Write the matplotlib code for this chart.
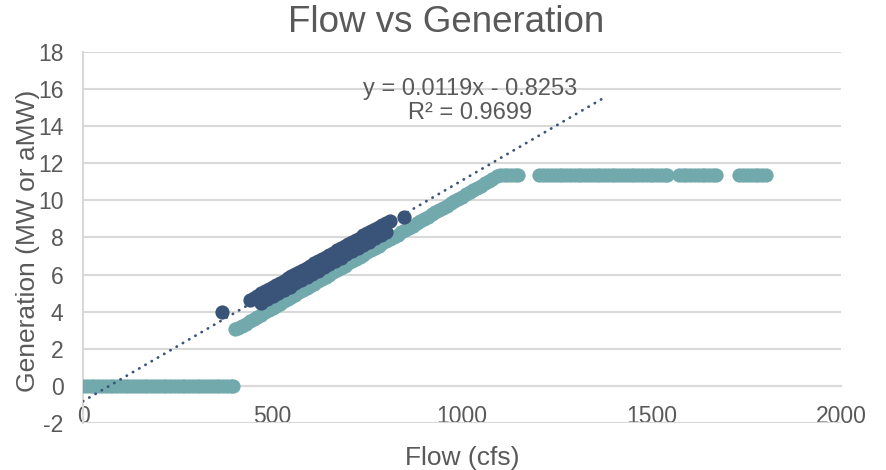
import matplotlib.pyplot as plt
import numpy as np

plt.rcParams['font.family'] = ['Liberation Sans', 'DejaVu Sans']
plt.rcParams['axes.unicode_minus'] = False

grey = "#595959"
grid_c = "#D9D9D9"
teal = "#72A9AC"
navy = "#3A5378"

# teal series: zero generation below ~400 cfs
teal_flow_zero = [0, 10, 20, 30, 40, 50, 60, 70, 80, 90, 100, 110, 120, 130,
                  140, 150, 160, 170, 180, 190, 200, 210, 220, 230, 240, 250,
                  260, 270, 280, 290, 300, 310, 320, 330, 340, 350, 360, 370,
                  380, 390, 397]
teal_gen_zero = [0] * len(teal_flow_zero)

# teal ramp
teal_flow_ramp = [402, 410, 420, 430, 440, 450, 460, 470, 480, 490, 500, 510,
                  520, 530, 540, 550, 560, 570, 580, 590, 600, 610, 620, 630,
                  640, 650, 660, 670, 680, 690, 700, 710, 720, 730, 740, 750,
                  760, 770, 780, 790, 800, 810, 820, 830, 840, 850, 860, 870,
                  880, 890, 900, 910, 920, 930, 940, 950, 960, 970, 980, 990,
                  1000, 1010, 1020, 1030, 1040, 1050, 1060, 1070, 1080, 1092]
teal_gen_ramp = [3.06, 3.12, 3.24, 3.36, 3.48, 3.60, 3.72, 3.84, 3.96, 4.08,
                 4.20, 4.32, 4.44, 4.56, 4.68, 4.80, 4.92, 5.04, 5.16, 5.28,
                 5.40, 5.52, 5.64, 5.76, 5.88, 6.00, 6.12, 6.24, 6.36, 6.48,
                 6.60, 6.72, 6.84, 6.96, 7.08, 7.20, 7.32, 7.44, 7.56, 7.68,
                 7.80, 7.92, 8.04, 8.16, 8.28, 8.40, 8.52, 8.64, 8.76, 8.88,
                 9.00, 9.12, 9.24, 9.36, 9.48, 9.60, 9.72, 9.84, 9.96, 10.08,
                 10.20, 10.32, 10.44, 10.56, 10.68, 10.80, 10.92, 11.04, 11.16,
                 11.34]

# teal plateau at full generation
teal_flow_flat = [1100, 1110, 1120, 1130, 1140, 1149,
                  1204, 1215, 1225, 1235, 1245, 1255, 1265, 1275, 1285, 1295,
                  1305, 1315, 1325, 1335, 1345, 1355, 1365, 1375, 1385, 1395,
                  1405, 1415, 1425, 1435, 1445, 1455, 1465, 1475, 1485, 1495,
                  1505, 1515, 1525, 1535, 1540,
                  1572, 1582, 1592, 1602, 1612, 1622, 1632, 1642, 1652, 1662,
                  1670, 1732, 1742, 1752, 1762, 1772, 1782, 1792, 1802]
teal_gen_flat = [11.35] * len(teal_flow_flat)

# navy series (upper edge row, lower row, and two stray points)
navy_flow = [367, 441, 450, 460, 470, 480, 490, 500, 510, 520, 530, 540, 550,
             560, 570, 580, 590, 600, 610, 620, 630, 640, 650, 660, 670, 680,
             690, 700, 710, 720, 730, 740, 750, 760, 770, 780, 790, 800, 810,
             470, 485, 500, 515, 530, 545, 560, 575, 590, 605, 620, 635, 650,
             665, 680, 695, 710, 725, 740, 755, 770, 785, 800, 848]
navy_gen = [3.98, 4.65, 4.75, 4.87, 4.99, 5.10, 5.22, 5.33, 5.45, 5.56, 5.68,
            5.80, 5.91, 6.03, 6.14, 6.26, 6.37, 6.49, 6.61, 6.72, 6.84, 6.95,
            7.07, 7.18, 7.30, 7.42, 7.53, 7.65, 7.76, 7.88, 7.99, 8.11, 8.23,
            8.34, 8.46, 8.57, 8.69, 8.80, 8.90,
            4.49, 4.66, 4.83, 5.01, 5.18, 5.35, 5.53, 5.70, 5.87, 6.05, 6.22,
            6.39, 6.57, 6.74, 6.92, 7.09, 7.26, 7.44, 7.61, 7.78, 7.96, 8.13,
            8.30, 9.12]

# linear trendline reported in the chart
trend_flow = [0, 1375]
trend_slope = 0.0119
trend_icept = -0.8253

fig = plt.figure(figsize=(8.86, 4.7), dpi=100)
ax = fig.add_axes([83/886, 1 - 423/470, (841-83)/886, (423-52)/470])

ms = 105
ax.scatter(teal_flow_zero, teal_gen_zero, s=ms, color=teal, lw=0, zorder=3)
ax.scatter(teal_flow_ramp, teal_gen_ramp, s=ms, color=teal, lw=0, zorder=3)
ax.scatter(teal_flow_flat, teal_gen_flat, s=ms, color=teal, lw=0, zorder=3)
ax.scatter(navy_flow, navy_gen, s=ms, color=navy, lw=0, zorder=4)

tx = np.array(trend_flow)
ax.plot(tx, trend_slope * tx + trend_icept, color=navy, lw=2.0,
        linestyle=(0, (0.1, 2.5)), dash_capstyle='round', zorder=5)

ax.text(1021, 15.35, "y = 0.0119x - 0.8253\nR² = 0.9699", ha='center',
        va='center', fontsize=17, color=grey, linespacing=1.1, zorder=6)

ax.set_xlim(0, 2000)
ax.set_ylim(-2, 18)
ax.set_xticks([0, 500, 1000, 1500, 2000])
ax.set_yticks(range(-2, 19, 2))
ax.yaxis.grid(True, color=grid_c, lw=1.5)
ax.set_axisbelow(True)
for s in ['top', 'right']:
    ax.spines[s].set_visible(False)
ax.spines['bottom'].set_position(('data', 0))
ax.spines['bottom'].set_color(grid_c)
ax.spines['left'].set_color(grid_c)
ax.spines['bottom'].set_linewidth(1.5)
ax.spines['left'].set_linewidth(1.5)
ax.tick_params(length=0, labelsize=16.5, labelcolor=grey)
ax.tick_params(axis='x', pad=14)
ax.tick_params(axis='y', pad=14)

fig.text(446/886, 1 - 22/470, "Flow vs Generation", ha='center', va='center',
         fontsize=26.5, color=grey)
fig.text(462/886, 1 - 458/470, "Flow (cfs)", ha='center', va='center',
         fontsize=19, color=grey)
fig.text(28/886, 1 - 241/470, "Generation (MW or aMW)", ha='center',
         va='center', rotation=90, fontsize=19, color=grey)

plt.savefig("out.png", dpi=100)
